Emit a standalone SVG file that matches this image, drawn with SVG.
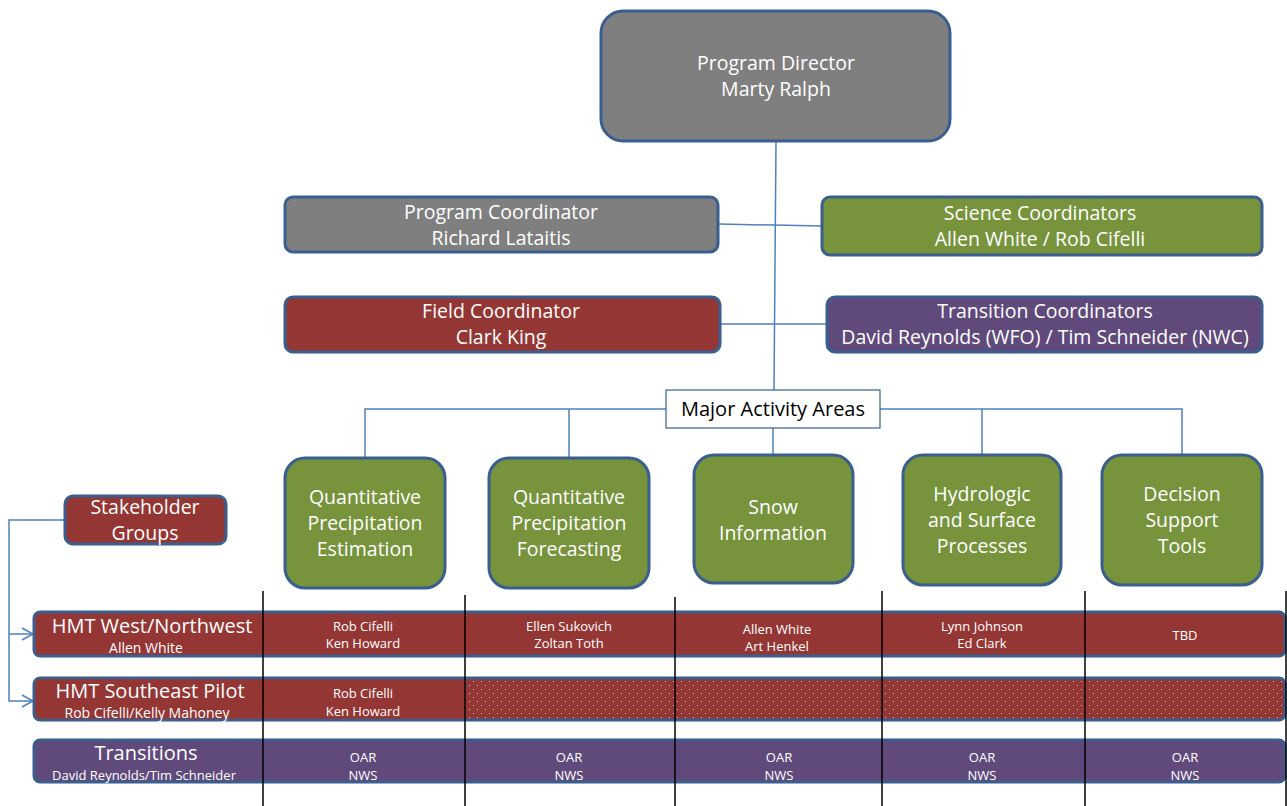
<svg xmlns="http://www.w3.org/2000/svg" width="1287" height="806" viewBox="0 0 1287 806">
<style>
.t{font-family:"Open Sans","Noto Sans","Liberation Sans",sans-serif;fill:#ffffff;text-anchor:middle}
.box{stroke:#3a5f8f;stroke-width:3}
.gray{fill:#7f7f7f}.green{fill:#77933c}.red{fill:#943634}.purple{fill:#604a7b}
.con{fill:none;stroke:#4f81bd;stroke-width:1.5}
.sep{stroke:#000;stroke-width:1.5}
.b18{font-size:19.5px}.b12{font-size:13px}.b13{font-size:14px}.h{font-size:20px}
</style>
<defs>
<pattern id="dots" width="8" height="8" patternUnits="userSpaceOnUse">
<rect width="8" height="8" fill="#943634"/>
<rect x="1" y="1" width="1" height="1" fill="#e8c8c8"/>
<rect x="5" y="5" width="1" height="1" fill="#e8c8c8"/>
</pattern>
<marker id="arr" markerWidth="14" markerHeight="14" refX="12" refY="7" orient="auto" markerUnits="userSpaceOnUse">
<path d="M1,1 L12,7 L1,13" fill="none" stroke="#4f81bd" stroke-width="1.5"/>
</marker>
</defs>

<g id="connectors">
<line class="con" x1="776" y1="141" x2="774" y2="390"/>
<line class="con" x1="718" y1="224" x2="822" y2="226"/>
<line class="con" x1="720" y1="324" x2="827" y2="324"/>
<polyline class="con" points="365,458 365,409 666,409"/>
<polyline class="con" points="880,409 1182,409 1182,455"/>
<line class="con" x1="569" y1="409" x2="569" y2="458"/>
<line class="con" x1="982" y1="409" x2="982" y2="455"/>
<line class="con" x1="773" y1="428" x2="773" y2="455"/>
<polyline class="con" points="65,520 9,520 9,701 33,701" marker-end="url(#arr)"/>
<line class="con" x1="9" y1="634" x2="33" y2="634" marker-end="url(#arr)"/>
</g>

<g id="program-director">
<rect class="box gray" x="601" y="11" width="349" height="130" rx="22"/>
<text class="t b18" x="776" y="70">Program Director</text>
<text class="t b18" x="776" y="96">Marty Ralph</text>
</g>
<g id="program-coordinator">
<rect class="box gray" x="285" y="197" width="433" height="55" rx="8"/>
<text class="t b18" x="501" y="219">Program Coordinator</text>
<text class="t b18" x="501" y="245">Richard Lataitis</text>
</g>
<g id="science-coordinators">
<rect class="box green" x="822" y="197" width="440" height="58" rx="8"/>
<text class="t b18" x="1040" y="220">Science Coordinators</text>
<text class="t b18" x="1040" y="246">Allen White / Rob Cifelli</text>
</g>
<g id="field-coordinator">
<rect class="box red" x="285" y="297" width="435" height="55" rx="8"/>
<text class="t b18" x="501" y="318">Field Coordinator</text>
<text class="t b18" x="501" y="344">Clark King</text>
</g>
<g id="transition-coordinators">
<rect class="box purple" x="827" y="297" width="435" height="55" rx="8"/>
<text class="t b18" x="1045" y="318">Transition Coordinators</text>
<text class="t b18" x="1045" y="344">David Reynolds (WFO) / Tim Schneider (NWC)</text>
</g>
<g id="major-activity-areas">
<rect x="666" y="390" width="214" height="38" fill="#ffffff" stroke="#3a5f8f" stroke-width="1.2"/>
<text class="t h" x="773" y="416" style="fill:#000">Major Activity Areas</text>
</g>
<g id="qpe">
<rect class="box green" x="285" y="458" width="160" height="130" rx="20"/>
<text class="t b18" x="365" y="504">Quantitative</text>
<text class="t b18" x="365" y="530">Precipitation</text>
<text class="t b18" x="365" y="556">Estimation</text>
</g>
<g id="qpf">
<rect class="box green" x="489" y="458" width="160" height="130" rx="20"/>
<text class="t b18" x="569" y="504">Quantitative</text>
<text class="t b18" x="569" y="530">Precipitation</text>
<text class="t b18" x="569" y="556">Forecasting</text>
</g>
<g id="snow">
<rect class="box green" x="694" y="455" width="159" height="128" rx="20"/>
<text class="t b18" x="773" y="514">Snow</text>
<text class="t b18" x="773" y="540">Information</text>
</g>
<g id="hydro">
<rect class="box green" x="903" y="455" width="158" height="130" rx="20"/>
<text class="t b18" x="982" y="501">Hydrologic</text>
<text class="t b18" x="982" y="527">and Surface</text>
<text class="t b18" x="982" y="553">Processes</text>
</g>
<g id="dst">
<rect class="box green" x="1102" y="455" width="160" height="130" rx="20"/>
<text class="t b18" x="1182" y="501">Decision</text>
<text class="t b18" x="1182" y="527">Support</text>
<text class="t b18" x="1182" y="553">Tools</text>
</g>
<g id="stakeholder-groups">
<rect class="box red" x="65" y="496" width="161" height="48" rx="8"/>
<text class="t b18" x="145" y="514">Stakeholder</text>
<text class="t b18" x="145" y="540">Groups</text>
</g>

<g id="hmt-west">
<rect class="box red" x="34" y="612" width="1251" height="44" rx="6"/>
<text class="t h" x="152" y="633">HMT West/Northwest</text>
<text class="t b13" x="146" y="653">Allen White</text>
<text class="t b12" x="363" y="631">Rob Cifelli</text>
<text class="t b12" x="363" y="648">Ken Howard</text>
<text class="t b12" x="569" y="631">Ellen Sukovich</text>
<text class="t b12" x="569" y="648">Zoltan Toth</text>
<text class="t b12" x="777" y="634">Allen White</text>
<text class="t b12" x="777" y="651">Art Henkel</text>
<text class="t b12" x="982" y="631">Lynn Johnson</text>
<text class="t b12" x="982" y="648">Ed Clark</text>
<text class="t b12" x="1185" y="640">TBD</text>
</g>
<g id="hmt-southeast">
<rect class="box" x="34" y="678" width="1251" height="42" rx="6" fill="url(#dots)"/>
<path class="red" d="M40,679.5 H465 V718.5 H40 A4.5,4.5 0 0 1 35.5,714 V684 A4.5,4.5 0 0 1 40,679.5 Z"/>
<text class="t h" x="150" y="698">HMT Southeast Pilot</text>
<text class="t b13" x="147" y="718">Rob Cifelli/Kelly Mahoney</text>
<text class="t b12" x="363" y="698">Rob Cifelli</text>
<text class="t b12" x="363" y="716">Ken Howard</text>
</g>
<g id="transitions">
<rect class="box purple" x="34" y="740" width="1251" height="42" rx="6"/>
<text class="t h" x="146" y="760">Transitions</text>
<text class="t b12" x="144" y="780">David Reynolds/Tim Schneider</text>
<text class="t b12" x="363" y="762">OAR</text><text class="t b12" x="363" y="780">NWS</text>
<text class="t b12" x="569" y="762">OAR</text><text class="t b12" x="569" y="780">NWS</text>
<text class="t b12" x="779" y="762">OAR</text><text class="t b12" x="779" y="780">NWS</text>
<text class="t b12" x="982" y="762">OAR</text><text class="t b12" x="982" y="780">NWS</text>
<text class="t b12" x="1185" y="762">OAR</text><text class="t b12" x="1185" y="780">NWS</text>
</g>
<g id="column-separators">
<line class="sep" x1="263" y1="591" x2="263" y2="806"/>
<line class="sep" x1="465" y1="595" x2="465" y2="806"/>
<line class="sep" x1="675" y1="597" x2="675" y2="806"/>
<line class="sep" x1="882" y1="591" x2="882" y2="806"/>
<line class="sep" x1="1085" y1="591" x2="1085" y2="806"/>
<line class="sep" x1="1286" y1="591" x2="1286" y2="806" stroke-width="1"/>
</g>
</svg>
